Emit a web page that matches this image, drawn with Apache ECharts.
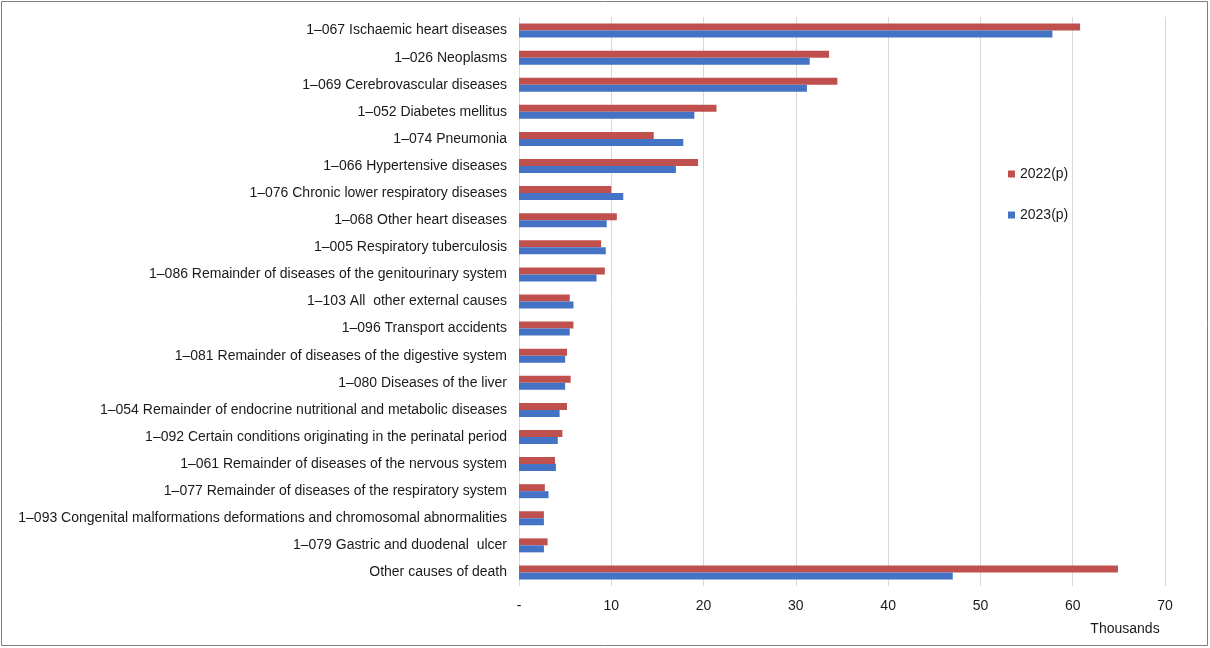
<!DOCTYPE html>
<html><head><meta charset="utf-8">
<script src="https://cdn.jsdelivr.net/npm/echarts@6/dist/echarts.min.js"></script>
<style>html,body{margin:0;padding:0;background:#fff}#c{width:1210px;height:648px}</style>
</head><body><div id="c"></div>
<script>
const categories = [
"1–067 Ischaemic heart diseases",
"1–026 Neoplasms",
"1–069 Cerebrovascular diseases",
"1–052 Diabetes mellitus",
"1–074 Pneumonia",
"1–066 Hypertensive diseases",
"1–076 Chronic lower respiratory diseases",
"1–068 Other heart diseases",
"1–005 Respiratory tuberculosis",
"1–086 Remainder of diseases of the genitourinary system",
"1–103 All  other external causes",
"1–096 Transport accidents",
"1–081 Remainder of diseases of the digestive system",
"1–080 Diseases of the liver",
"1–054 Remainder of endocrine nutritional and metabolic diseases",
"1–092 Certain conditions originating in the perinatal period",
"1–061 Remainder of diseases of the nervous system",
"1–077 Remainder of diseases of the respiratory system",
"1–093 Congenital malformations deformations and chromosomal abnormalities",
"1–079 Gastric and duodenal  ulcer",
"Other causes of death"
];
const s2022 = [60.8,33.6,34.5,21.4,14.6,19.4,10.0,10.6,8.9,9.3,5.5,5.9,5.2,5.6,5.2,4.7,3.9,2.8,2.7,3.1,64.9];
const s2023 = [57.8,31.5,31.2,19.0,17.8,17.0,11.3,9.5,9.4,8.4,5.9,5.5,5.0,5.0,4.4,4.2,4.0,3.2,2.7,2.7,47.0];
const xTicks = {min:0, max:70, interval:10};
const FONT = 'Liberation Sans, Arial, sans-serif';

const chart = echarts.init(document.getElementById('c'), null, {renderer:'canvas'});
chart.setOption({
  animation:false,
  backgroundColor:'#fff',
  textStyle:{fontFamily:FONT},
  grid:{left:519, right:45, top:17, bottom:62, containLabel:false},
  legend:{
    orient:'vertical', left:1003, top:162, itemWidth:7, itemHeight:7, itemGap:27,
    icon:'rect',
    textStyle:{fontSize:14, color:'#1a1a1a', fontFamily:FONT},
    data:['2022(p)','2023(p)']
  },
  xAxis:{
    type:'value', min:xTicks.min, max:xTicks.max, interval:xTicks.interval,
    axisLine:{show:false}, axisTick:{show:false},
    splitLine:{lineStyle:{color:'#d9d9d9', width:1}},
    axisLabel:{fontSize:14, color:'#1a1a1a', margin:13, fontFamily:FONT,
      formatter:v=> v===0 ? '-' : String(v)}
  },
  yAxis:{
    type:'category', data:categories, inverse:true,
    axisLine:{show:false}, axisTick:{show:false},
    axisLabel:{fontSize:14, color:'#1a1a1a', margin:12, fontFamily:FONT}
  },
  series:[
    {name:'2022(p)', type:'bar', data:s2022, barWidth:7, barGap:'0%', itemStyle:{color:'#c0504d'}},
    {name:'2023(p)', type:'bar', data:s2023, barWidth:7, barGap:'0%', itemStyle:{color:'#4472c4'}}
  ],
  graphic:[
    {type:'rect', shape:{x:1.5,y:1.5,width:1206,height:644}, style:{fill:null, stroke:'#7f7f7f', lineWidth:1}, silent:true, z:-1},
    {type:'text', x:1125, y:629, style:{text:'Thousands', fill:'#1a1a1a', font:'14px '+FONT, textAlign:'center', textVerticalAlign:'middle'}}
  ]
});
</script></body></html>
